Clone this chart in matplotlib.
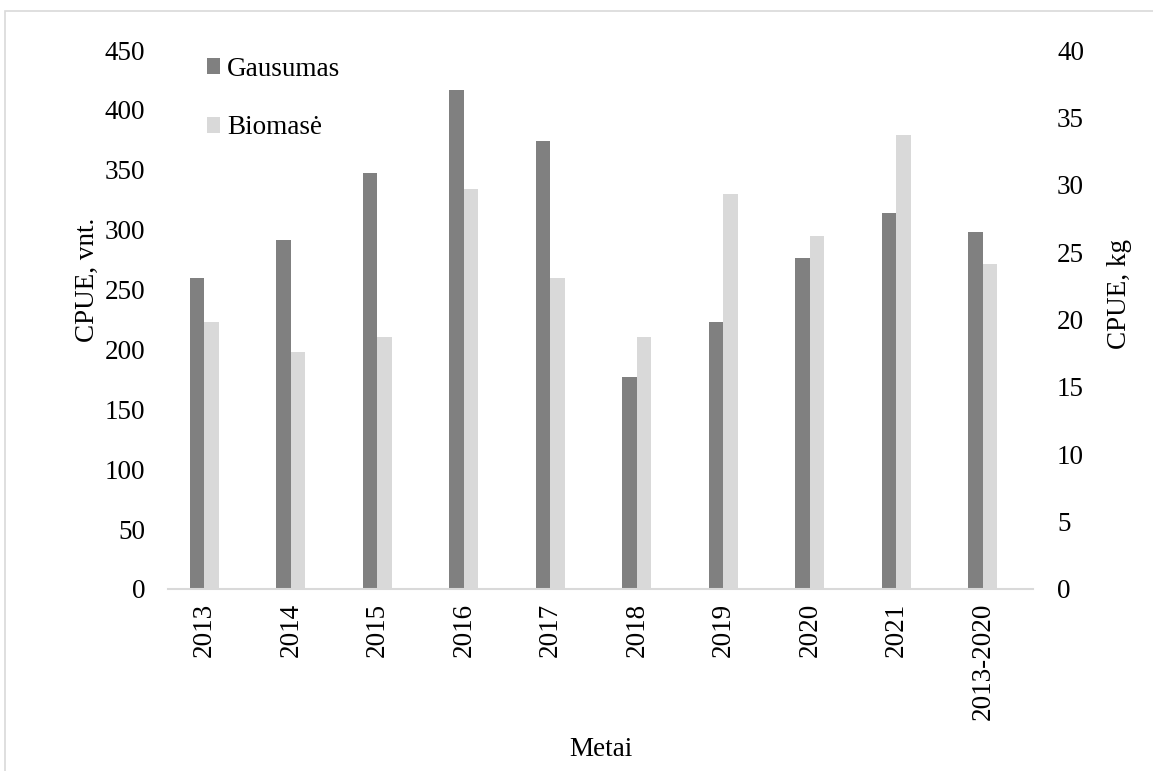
import numpy as np
import matplotlib.pyplot as plt
from matplotlib.patches import Rectangle

# CPUE by year: abundance (left axis) and biomass (right axis)
years = ["2013", "2014", "2015", "2016", "2017", "2018", "2019", "2020", "2021", "2013-2020"]
gausumas = [260, 291, 347, 417, 374, 177, 223, 276, 314, 298]
biomase = [19.8, 17.6, 18.7, 29.7, 23.1, 18.7, 29.3, 26.2, 33.7, 24.1]

dark = "#808080"
light = "#d9d9d9"

plt.rcParams["font.family"] = ["Liberation Serif", "DejaVu Serif"]
plt.rcParams["font.size"] = 19.5

fig = plt.figure(figsize=(11.53, 7.71), dpi=100)
ax = fig.add_axes([0.1457, 0.2361, 0.7502, 0.699])
ax2 = ax.twinx()

x = np.arange(len(years))
w = 0.168
shift = -0.08

b1 = ax.bar(x + shift - w / 2, gausumas, w, color=dark, label="Gausumas")
b2 = ax2.bar(x + shift + w / 2, biomase, w, color=light, label="Biomasė")

ax.set_xlim(-0.5, len(years) - 0.5)
ax.set_ylim(0, 450)
ax.set_yticks(np.arange(0, 451, 50))
ax2.set_ylim(0, 40)
ax2.set_yticks(np.arange(0, 41, 5))

ax.set_xticks(x + shift)
ax.set_xticklabels(years, rotation=90)

for a in (ax, ax2):
    for s in a.spines.values():
        s.set_visible(False)
    a.tick_params(length=0)
ax.spines["bottom"].set_visible(True)
ax.spines["bottom"].set_color(light)
ax.spines["bottom"].set_linewidth(1.5)

ax.tick_params(axis="y", pad=16.5)
ax2.tick_params(axis="y", pad=17.3)
ax.tick_params(axis="x", pad=10)

ax.set_ylabel("CPUE, vnt.")
ax.yaxis.set_label_coords(-0.0786, 0.574)
ax2.set_ylabel("CPUE, kg")
ax2.yaxis.set_label_coords(1.0855, 0.548)
ax.set_xlabel("Metai")
ax.xaxis.set_label_coords(0.5, -0.274)

leg = ax2.legend(handles=[b1, b2], loc="upper left", bbox_to_anchor=(0.032, 1.008),
                 frameon=False, handlelength=0.5, handleheight=0.5,
                 handletextpad=0.25, labelspacing=1.25, borderaxespad=0)

# light frame around the chart area
fig.patches.append(Rectangle((5 / 1153, -0.05), 1.1, 1 - 11 / 771 + 0.05,
                             transform=fig.transFigure, fill=False,
                             edgecolor=light, linewidth=1.2))

fig.savefig("out.png", dpi=100)
